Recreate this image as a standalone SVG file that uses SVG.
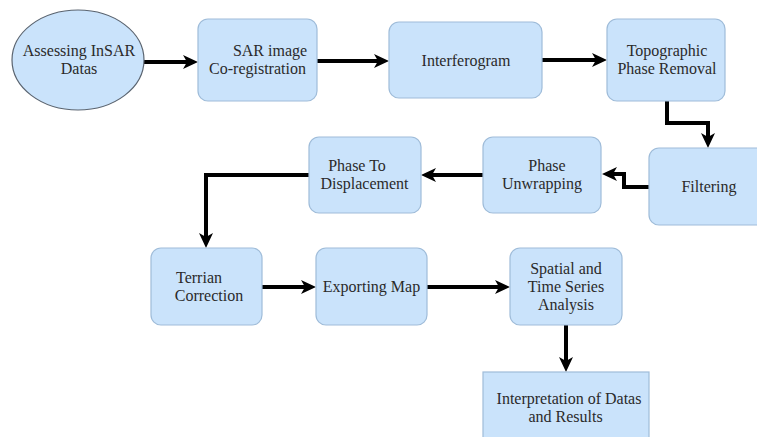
<svg xmlns="http://www.w3.org/2000/svg" width="757" height="437" viewBox="0 0 757 437">
<defs>
<style>
.box{fill:#cae3fb;stroke:#9fbcd9;stroke-width:1.2}
.ell{fill:#cae3fb;stroke:#5a6470;stroke-width:1.2}
.t{font-family:"Liberation Serif","Times New Roman",serif;font-size:16px;fill:#2a2a2a;text-anchor:middle}
.c{fill:none;stroke:#000;stroke-width:4;stroke-linejoin:miter}
</style>
<marker id="ah" markerUnits="userSpaceOnUse" markerWidth="16" markerHeight="16" viewBox="0 0 16 16" refX="7" refY="8" orient="auto">
<path d="M0,1 L15,8 L0,15 L4,8 Z" fill="#000"/>
</marker>
</defs>
<rect width="757" height="437" fill="#fff"/>
<g id="connectors">
<path class="c" marker-end="url(#ah)" d="M144,62 H190"/>
<path class="c" marker-end="url(#ah)" d="M317,61 H381"/>
<path class="c" marker-end="url(#ah)" d="M542,60 H599"/>
<path class="c" marker-end="url(#ah)" d="M667,101 V123 H708 V140"/>
<path class="c" marker-end="url(#ah)" d="M649,187 H624 V174 H610"/>
<path class="c" marker-end="url(#ah)" d="M483,175 H429"/>
<path class="c" marker-end="url(#ah)" d="M309,175 H206 V240"/>
<path class="c" marker-end="url(#ah)" d="M262,287 H308"/>
<path class="c" marker-end="url(#ah)" d="M427,287 H502"/>
<path class="c" marker-end="url(#ah)" d="M566,325 V364"/>
</g>
<g id="assessing">
<ellipse class="ell" cx="78" cy="60" rx="66" ry="50"/>
<text class="t" x="79" y="56">Assessing InSAR</text>
<text class="t" x="79" y="74">Datas</text>
</g>
<g id="sar">
<rect class="box" x="198" y="19" width="119" height="82" rx="10"/>
<text class="t" x="270" y="56">SAR image</text>
<text class="t" x="257.5" y="74">Co-registration</text>
</g>
<g id="interferogram">
<rect class="box" x="389" y="22" width="153" height="76" rx="10"/>
<text class="t" x="466" y="66">Interferogram</text>
</g>
<g id="topographic">
<rect class="box" x="607" y="19" width="118" height="82" rx="10"/>
<text class="t" x="667" y="56">Topographic</text>
<text class="t" x="667" y="74">Phase Removal</text>
</g>
<g id="filtering">
<rect class="box" x="649" y="148" width="120" height="77" rx="10"/>
<text class="t" x="709" y="192">Filtering</text>
</g>
<g id="unwrapping">
<rect class="box" x="483" y="137" width="118" height="76" rx="10"/>
<text class="t" x="547" y="171">Phase</text>
<text class="t" x="542" y="189">Unwrapping</text>
</g>
<g id="displacement">
<rect class="box" x="309" y="137" width="112" height="76" rx="10"/>
<text class="t" x="357" y="171">Phase To</text>
<text class="t" x="364.5" y="189">Displacement</text>
</g>
<g id="terrian">
<rect class="box" x="151" y="248" width="111" height="77" rx="10"/>
<text class="t" x="199" y="283">Terrian</text>
<text class="t" x="209" y="301">Correction</text>
</g>
<g id="exporting">
<rect class="box" x="316" y="248" width="111" height="77" rx="10"/>
<text class="t" x="371.5" y="292">Exporting Map</text>
</g>
<g id="spatial">
<rect class="box" x="510" y="248" width="112" height="77" rx="10"/>
<text class="t" x="566" y="274">Spatial and</text>
<text class="t" x="566" y="292">Time Series</text>
<text class="t" x="566" y="310">Analysis</text>
</g>
<g id="interpretation">
<rect class="box" x="483" y="372" width="166" height="70"/>
<text class="t" x="569" y="404">Interpretation of Datas</text>
<text class="t" x="565.5" y="422">and Results</text>
</g>
</svg>
